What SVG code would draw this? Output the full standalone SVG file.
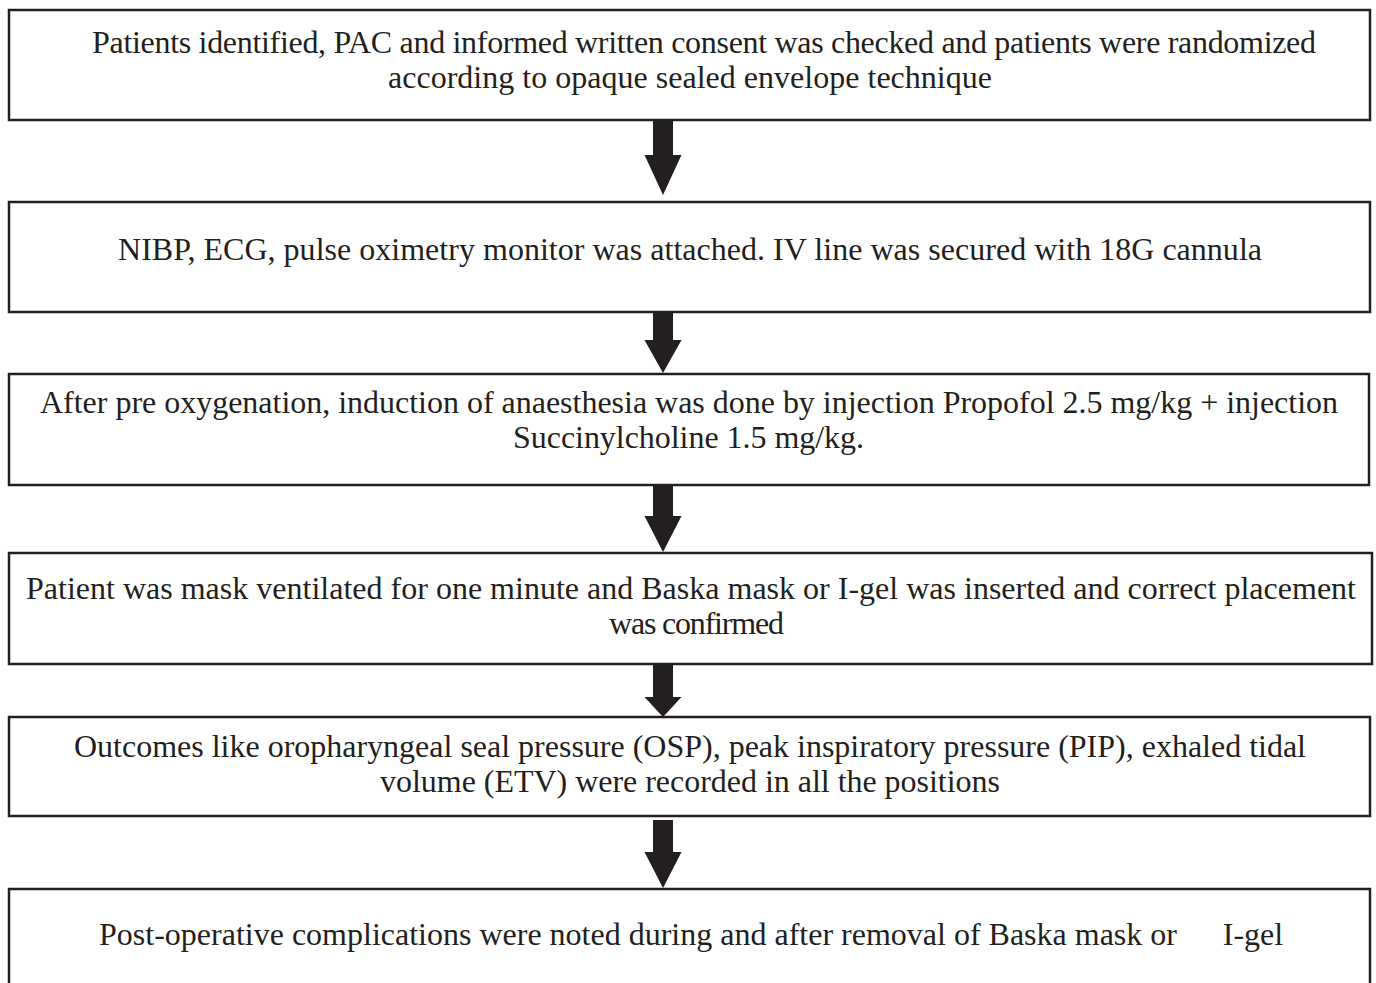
<svg xmlns="http://www.w3.org/2000/svg" width="1376" height="983" viewBox="0 0 1376 983">
<style>
.box{fill:#fff;stroke:#231f20;stroke-width:2.5}
.t{font-family:"Liberation Serif","Times New Roman",serif;font-size:32px;fill:#231f20;text-anchor:middle}
.arr{fill:#231f20}
</style>
<rect width="1376" height="983" fill="#fff"/>
<g id="node1"><rect class="box" x="9" y="10" width="1361" height="110"/>
<text class="t" x="704" y="53" textLength="1224" lengthAdjust="spacing">Patients identified, PAC and informed written consent was checked and patients were randomized</text>
<text class="t" x="690" y="88" textLength="604" lengthAdjust="spacing">according to opaque sealed envelope technique</text></g>
<g id="node2"><rect class="box" x="9" y="202" width="1361" height="110"/>
<text class="t" x="690" y="260" textLength="1144" lengthAdjust="spacing">NIBP, ECG, pulse oximetry monitor was attached. IV line was secured with 18G cannula</text></g>
<g id="node3"><rect class="box" x="9" y="374" width="1360" height="111"/>
<text class="t" x="689" y="413" textLength="1298" lengthAdjust="spacing">After pre oxygenation, induction of anaesthesia was done by injection Propofol 2.5 mg/kg + injection</text>
<text class="t" x="688.5" y="448" textLength="351" lengthAdjust="spacing">Succinylcholine 1.5 mg/kg.</text></g>
<g id="node4"><rect class="box" x="9" y="553" width="1363" height="111"/>
<text class="t" x="691" y="599" textLength="1330" lengthAdjust="spacing">Patient was mask ventilated for one minute and Baska mask or I-gel was inserted and correct placement</text>
<text class="t" x="696.5" y="634" textLength="175" lengthAdjust="spacing">was confirmed</text></g>
<g id="node5"><rect class="box" x="9" y="717" width="1361" height="99"/>
<text class="t" x="690" y="757" textLength="1232" lengthAdjust="spacing">Outcomes like oropharyngeal seal pressure (OSP), peak inspiratory pressure (PIP), exhaled tidal</text>
<text class="t" x="690" y="792" textLength="620" lengthAdjust="spacing">volume (ETV) were recorded in all the positions</text></g>
<g id="node6"><rect class="box" x="9" y="889" width="1361" height="110"/>
<text class="t" x="638" y="945">Post-operative complications were noted during and after removal of Baska mask or</text>
<text class="t" x="1253" y="945">I-gel</text></g>
<g id="connectors">
<path class="arr" d="M653,121 H673 V155 H681.5 L663,195 L644.5,155 H653 Z"/>
<path class="arr" d="M653,313 H673 V340 H681.5 L663,373 L644.5,340 H653 Z"/>
<path class="arr" d="M653,486 H673 V516 H681.5 L663,552 L644.5,516 H653 Z"/>
<path class="arr" d="M653,665 H673 V697 H681.5 L663,717 L644.5,697 H653 Z"/>
<path class="arr" d="M653,820 H673 V852 H681.5 L663,888 L644.5,852 H653 Z"/>
</g>
</svg>
